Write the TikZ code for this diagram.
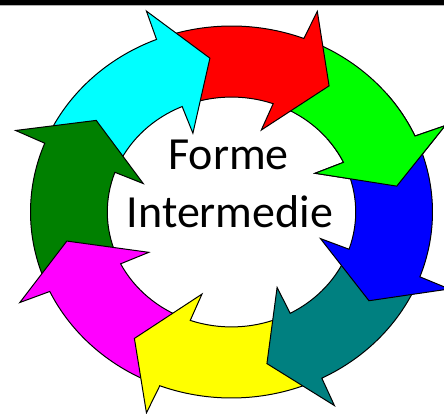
\documentclass[tikz,border=0pt]{standalone}
\usepackage{fontspec}
\setmainfont{Carlito}
\definecolor{cyanA}{RGB}{0,255,255}
\definecolor{redA}{RGB}{255,0,0}
\definecolor{greenA}{RGB}{0,255,0}
\definecolor{blueA}{RGB}{0,0,255}
\definecolor{tealA}{RGB}{0,128,128}
\definecolor{yellowA}{RGB}{255,255,0}
\definecolor{magentaA}{RGB}{255,0,255}
\definecolor{dgreenA}{RGB}{0,128,0}
\newcommand\cyclearrow[2]{%
  \path[arrowshape, fill=#2] (#1+56:1) arc[start angle=#1+56, end angle=#1+14.5, radius=1]
    -- (#1+14:1.16) -- (#1:0.834) -- (#1+17:0.465) -- (#1+16:0.618)
    arc[start angle=#1+16, end angle=#1+58, radius=0.618] -- cycle;}
\tikzset{arrowshape/.style={draw=black, line width=1pt, line join=miter},
  label text/.style={font=\fontsize{46}{56}\selectfont, text=black, inner sep=0pt}}
\begin{document}
\begin{tikzpicture}[x=1pt,y=1pt]
\useasboundingbox (0,0) rectangle (444,414);
\fill[white] (0,0) rectangle (444,414);
\begin{scope}[shift={(231.5,202)}, xscale=201, yscale=186]
  \cyclearrow{9.6}{greenA}
  \cyclearrow{54.4}{redA}
  \cyclearrow{97.4}{cyanA}
  \cyclearrow{143.8}{dgreenA}
  \cyclearrow{-169.2}{magentaA}
  \cyclearrow{-125.4}{yellowA}
  \cyclearrow{-77.8}{tealA}
  \cyclearrow{-34.9}{blueA}
  \begin{scope}
    \clip (0,0) -- (-0.4:1.6) -- (19.6:1.6) -- (39.6:1.6) -- cycle;
    \cyclearrow{9.6}{greenA}
  \end{scope}
\end{scope}
\node[label text, anchor=base] (l1) at (228.5,244) {Forme};
\node[label text, anchor=base] (l2) at (230,186) {Intermedie};
\fill[black] (0,409.3) rectangle (444,414);
\draw[black!30, line width=0.8pt] (0,408.9) -- (444,408.9);
\end{tikzpicture}
\end{document}
